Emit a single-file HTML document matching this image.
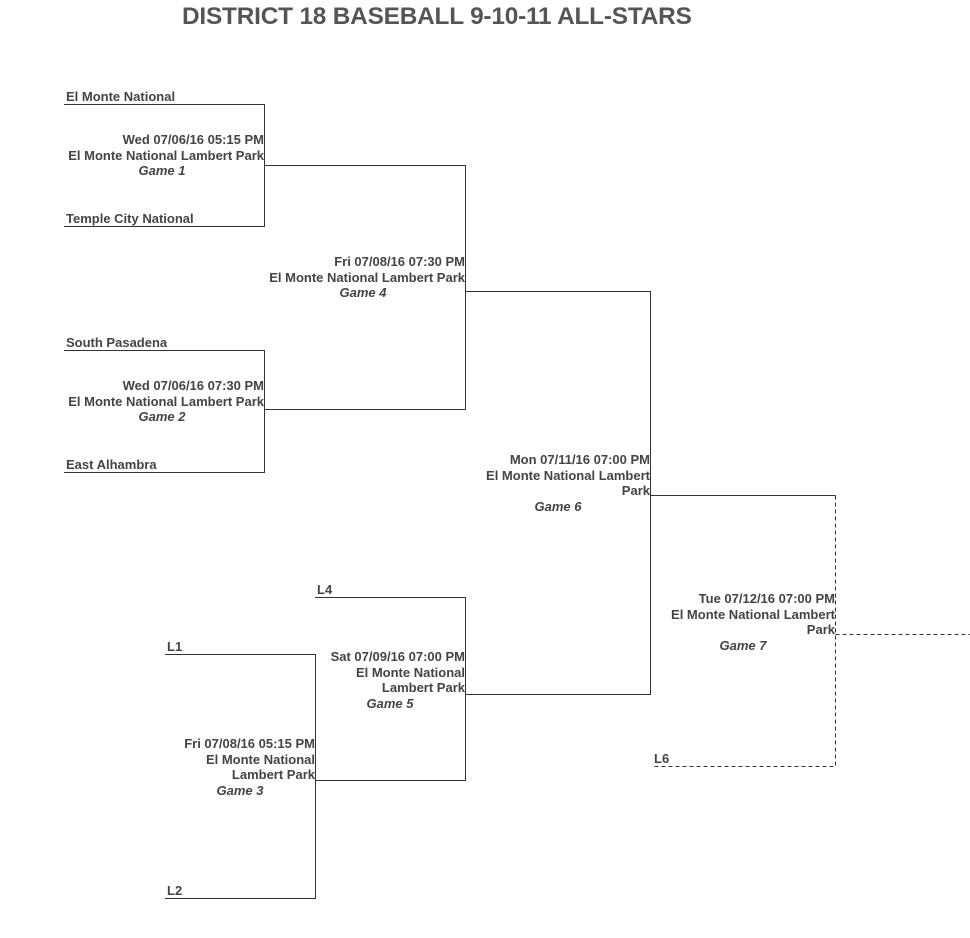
<!DOCTYPE html>
<html><head><meta charset="utf-8"><style>
body{margin:0;width:970px;height:938px;background:#fff;position:relative;overflow:hidden;font-family:"Liberation Sans",Arial,sans-serif;color:#444;font-weight:bold;font-size:13px}
.t{position:absolute;white-space:nowrap;line-height:16px}
.b{position:absolute;line-height:15.7px;text-align:right;white-space:nowrap}
.b i{display:block;text-align:center;padding-top:0}
h1{position:absolute;left:182px;top:3px;margin:0;font-size:24.4px;color:#555;letter-spacing:-0.2px;white-space:nowrap}
</style></head><body>
<h1>DISTRICT 18 BASEBALL 9-10-11 ALL-STARS</h1>
<svg width="970" height="938" style="position:absolute;left:0;top:0" stroke="#333" stroke-width="1" fill="none" shape-rendering="crispEdges">
<path d="M64 104.5H264.5V226.5H64M264.5 165.5H465.5V409.5H264.5M64 350.5H264.5V472.5H64"/>
<path d="M465.5 291.5H650.5V694.5H465.5"/>
<path d="M650.5 495.5H835.5"/>
<path d="M315 597.5H465.5V780.5H315M165 654.5H315.5V898.5H165M315.5 780.5H465.5"/>
<path d="M835.5 495.5V766.5H652M835.5 634.5H970" stroke-dasharray="4,3"/>
</svg>
<div class="t" style="left:66px;top:89px">El Monte National</div>
<div class="t" style="left:66px;top:211px">Temple City National</div>
<div class="t" style="left:66px;top:335px">South Pasadena</div>
<div class="t" style="left:66px;top:457px">East Alhambra</div>
<div class="t" style="left:317px;top:582px">L4</div>
<div class="t" style="left:167px;top:639px">L1</div>
<div class="t" style="left:167px;top:883px">L2</div>
<div class="t" style="left:654px;top:751px">L6</div>
<div class="b" style="left:60px;width:204px;top:132px">Wed 07/06/16 05:15 PM<br>El Monte National Lambert Park<i>Game 1</i></div>
<div class="b" style="left:60px;width:204px;top:378px">Wed 07/06/16 07:30 PM<br>El Monte National Lambert Park<i>Game 2</i></div>
<div class="b" style="left:261px;width:204px;top:254px">Fri 07/08/16 07:30 PM<br>El Monte National Lambert Park<i>Game 4</i></div>
<div class="b" style="left:466px;width:184px;top:452px">Mon 07/11/16 07:00 PM<br>El Monte National Lambert<br>Park<i>Game 6</i></div>
<div class="b" style="left:651px;width:184px;top:591px">Tue 07/12/16 07:00 PM<br>El Monte National Lambert<br>Park<i>Game 7</i></div>
<div class="b" style="left:315px;width:150px;top:649px">Sat 07/09/16 07:00 PM<br>El Monte National<br>Lambert Park<i>Game 5</i></div>
<div class="b" style="left:165px;width:150px;top:736px">Fri 07/08/16 05:15 PM<br>El Monte National<br>Lambert Park<i>Game 3</i></div>
</body></html>
